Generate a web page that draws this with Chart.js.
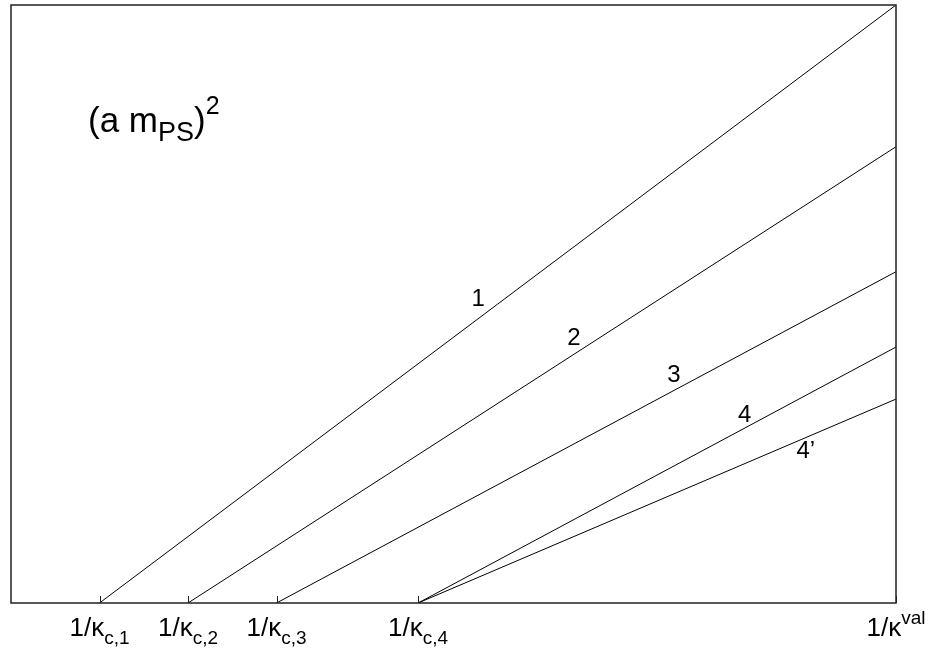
<!DOCTYPE html>
<html>
<head>
<meta charset="utf-8">
<script src="https://cdn.jsdelivr.net/npm/chart.js@4.4.1/dist/chart.umd.min.js"></script>
<style>
  html, body { margin: 0; padding: 0; background: #fff; }
  #wrap { width: 930px; height: 648px; }
</style>
</head>
<body>
<div id="wrap"><canvas id="chart"></canvas></div>
<script>
// straight lines from 1/kappa_c (where m_PS^2 vanishes) up to 1/kappa^val
const lineNames = ['1', '2', '3', '4', '4\u2019'];
const kappaCrit = [0.1, 0.2, 0.3, 0.46, 0.46];
const mps2AtVal = [1.0, 0.763, 0.554, 0.428, 0.341];
const kappaVal = 1.0;

// x-axis tick labels: 1/kappa with sub/superscript
const tickValues = [0.1, 0.2, 0.3, 0.46, 1.0];
const tickSubs = ['c,1', 'c,2', 'c,3', 'c,4', ''];
const tickSups = ['', '', '', '', 'val'];

// where the line numbers sit (data coords)
const labelX = [0.528, 0.636, 0.749, 0.829, 0.898];
const labelY = [0.507, 0.443, 0.381, 0.314, 0.253];

const FONT = '"Liberation Sans", Arial, Helvetica, sans-serif';

// draw text pieces one after the other, sizes/offsets per piece
function richText(ctx, parts, x, y, align) {
  let total = 0;
  parts.forEach(p => {
    ctx.font = p.size + 'px ' + FONT;
    p.w = ctx.measureText(p.text).width;
    total += p.w;
  });
  let cx = align === 'center' ? x - total / 2 : x;
  ctx.textAlign = 'left';
  ctx.textBaseline = 'alphabetic';
  parts.forEach(p => {
    ctx.font = p.size + 'px ' + FONT;
    ctx.fillText(p.text, cx, y + (p.dy || 0));
    cx += p.w;
  });
}

const framePlugin = {
  id: 'frame',
  afterDraw(chart) {
    const ctx = chart.ctx;
    const a = chart.chartArea;
    const xs = chart.scales.x, ys = chart.scales.y;
    ctx.save();
    ctx.strokeStyle = '#222';
    ctx.lineWidth = 1.5;
    ctx.strokeRect(a.left, a.top, a.right - a.left, a.bottom - a.top);

    // little upward ticks
    ctx.lineWidth = 1;
    tickValues.forEach(v => {
      const px = Math.round(xs.getPixelForValue(v)) + 0.5;
      ctx.beginPath();
      ctx.moveTo(px, a.bottom);
      ctx.lineTo(px, a.bottom - 7);
      ctx.stroke();
    });

    ctx.fillStyle = '#000';
    tickValues.forEach((v, i) => {
      const px = xs.getPixelForValue(v);
      const parts = [{ text: '1/\u03BA', size: 26 }];
      if (tickSubs[i]) parts.push({ text: tickSubs[i], size: 19, dy: 8 });
      if (tickSups[i]) parts.push({ text: tickSups[i], size: 19, dy: -12 });
      richText(ctx, parts, px, a.bottom + 33, 'center');
    });

    // line numbers
    ctx.font = '24px ' + FONT;
    ctx.textAlign = 'center';
    ctx.textBaseline = 'middle';
    lineNames.forEach((n, i) => {
      ctx.fillText(n, xs.getPixelForValue(labelX[i]), ys.getPixelForValue(labelY[i]));
    });

    // y-axis title inside the plot
    richText(ctx, [
      { text: '(a m', size: 35 },
      { text: 'PS', size: 27, dy: 9 },
      { text: ')', size: 35 },
      { text: '2', size: 25, dy: -18 }
    ], 88, 132, 'left');
    ctx.restore();
  }
};

const datasets = lineNames.map((n, i) => ({
  label: n,
  data: [{ x: kappaCrit[i], y: 0 }, { x: kappaVal, y: mps2AtVal[i] }],
  showLine: true,
  borderColor: '#000',
  borderWidth: 1,
  pointRadius: 0,
  fill: false
}));

new Chart(document.getElementById('chart'), {
  type: 'scatter',
  data: { datasets: datasets },
  options: {
    responsive: true,
    maintainAspectRatio: false,
    animation: false,
    layout: { padding: { left: 11, top: 5, right: 34, bottom: 45 } },
    plugins: { legend: { display: false }, tooltip: { enabled: false } },
    scales: {
      x: { type: 'linear', min: 0, max: 1, display: false },
      y: { type: 'linear', min: 0, max: 1, display: false }
    }
  },
  plugins: [framePlugin]
});
</script>
</body>
</html>
